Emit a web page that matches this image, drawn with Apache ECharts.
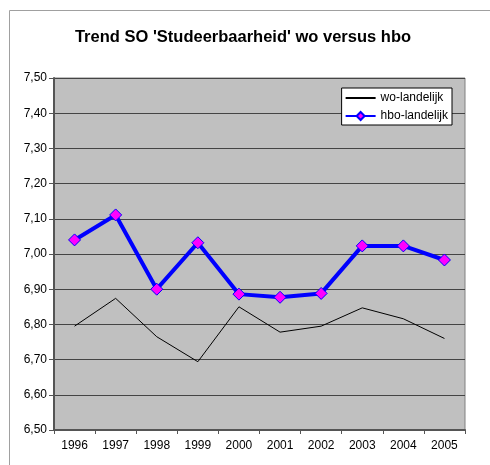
<!DOCTYPE html>
<html>
<head>
<meta charset="utf-8">
<script src="https://cdn.jsdelivr.net/npm/echarts@6/dist/echarts.min.js"></script>
<style>
  html, body { margin: 0; padding: 0; background: #fff; }
  #chart { width: 490px; height: 465px; }
</style>
</head>
<body>
<div id="chart"></div>
<script>
var years = ['1996', '1997', '1998', '1999', '2000', '2001', '2002', '2003', '2004', '2005']
var woLandelijk = [6.795, 6.874, 6.765, 6.694, 6.85, 6.778, 6.795, 6.847, 6.816, 6.76]
var hboLandelijk = [7.04, 7.111, 6.9, 7.032, 6.886, 6.877, 6.888, 7.023, 7.023, 6.983]

var mydom = echarts.init(document.getElementById('chart'))
var font = 'Liberation Sans, Arial, sans-serif'
var option = {
  animation: false,
  textStyle: { fontFamily: font },
  title: {
    text: "Trend SO 'Studeerbaarheid' wo versus hbo",
    left: 238,
    textAlign: 'center',
    top: 24,
    textStyle: { fontFamily: font, fontSize: 16.5, fontWeight: 'bold', color: '#000' }
  },
  graphic: [
    {
      type: 'rect',
      shape: { x: 9.5, y: 10.5, width: 500, height: 500 },
      style: { fill: 'none', stroke: '#a0a0a0', lineWidth: 1 },
      silent: true
    }
  ],
  legend: {
    right: 38,
    top: 88,
    orient: 'vertical',
    backgroundColor: '#fff',
    borderColor: '#000',
    borderWidth: 1,
    borderRadius: 0,
    padding: [4, 4, 3, 3],
    itemGap: 6,
    itemWidth: 30,
    itemHeight: 10,
    textStyle: { fontFamily: font, fontSize: 12, color: '#000' },
    data: [
      { name: 'wo-landelijk', itemStyle: { opacity: 0 } },
      'hbo-landelijk'
    ]
  },
  grid: {
    left: 54,
    right: 25,
    top: 78,
    bottom: 35,
    show: true,
    backgroundColor: '#c0c0c0',
    borderColor: '#808080',
    borderWidth: 1
  },
  xAxis: {
    type: 'category',
    data: years,
    boundaryGap: true,
    axisLine: { lineStyle: { color: '#555', width: 2 } },
    axisTick: { show: true, length: 4, lineStyle: { color: '#555' } },
    axisLabel: { fontFamily: font, fontSize: 12, color: '#000', margin: 10 },
    splitLine: { show: false }
  },
  yAxis: {
    type: 'value',
    min: 6.5,
    max: 7.5,
    interval: 0.1,
    axisLine: { show: true, lineStyle: { color: '#555', width: 2 } },
    axisTick: { show: true, length: 5, lineStyle: { color: '#555' } },
    axisLabel: {
      fontFamily: font,
      fontSize: 12,
      color: '#000',
      margin: 7,
      formatter: function (v) { return v.toFixed(2).replace('.', ',') }
    },
    splitLine: { show: true, lineStyle: { color: '#444', width: 1 } }
  },
  series: [
    {
      name: 'wo-landelijk',
      type: 'line',
      data: woLandelijk,
      symbol: 'none',
      lineStyle: { color: '#000', width: 1 },
      itemStyle: { color: '#000' },
      z: 3
    },
    {
      name: 'hbo-landelijk',
      type: 'line',
      data: hboLandelijk,
      symbol: 'diamond',
      symbolSize: 12,
      showAllSymbol: true,
      lineStyle: { color: '#0000ff', width: 4 },
      itemStyle: { color: '#ff00ff', borderColor: '#0000ff', borderWidth: 1 },
      z: 4
    }
  ]
}
mydom.setOption(option)
</script>
</body>
</html>
